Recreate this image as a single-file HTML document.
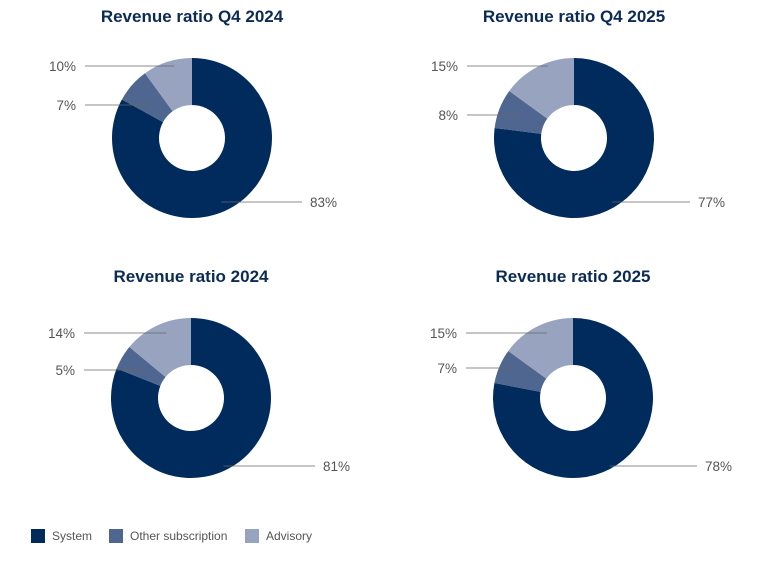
<!DOCTYPE html>
<html><head><meta charset="utf-8"><style>
body{margin:0;background:#fff;width:776px;height:570px;overflow:hidden;font-family:"Liberation Sans",sans-serif}
svg{display:block}
.t{font-weight:bold;font-size:17px;fill:#0b2a55}
.l{font-size:13.5px;fill:#555}
.lg{font-size:12px;fill:#555}
</style></head><body>
<svg id="c" width="776" height="570"></svg>
<script>
const titles=["Revenue ratio Q4 2024","Revenue ratio Q4 2025","Revenue ratio 2024","Revenue ratio 2025"];
const system=[83,77,81,78];
const otherSub=[7,8,5,7];
const advisory=[10,15,14,15];
const seriesNames=["System","Other subscription","Advisory"];
const colors=["#002b5c","#4f6690","#98a3bf"];
const centers=[[192,138],[574,138],[191,398],[573,398]];
const labelY=[[202,105,66],[202,115,66],[466,370,333],[466,368,333]];
const rightOff=[110,116,124,124];
const R=80,r=33,NS="http://www.w3.org/2000/svg";
const svg=document.getElementById('c');
function mk(t,a){const e=document.createElementNS(NS,t);for(const k in a)e.setAttribute(k,a[k]);svg.appendChild(e);return e;}
function pt(cx,cy,rad,f){const a=f*2*Math.PI;return [cx+rad*Math.sin(a),cy-rad*Math.cos(a)];}
titles.forEach((title,i)=>{
  const [cx,cy]=centers[i];
  const t=mk('text',{x:cx,y:cy-116,'text-anchor':'middle',class:'t'});t.textContent=title;
  
  
  const vals=[system[i],otherSub[i],advisory[i]];
  const tot=vals.reduce((a,b)=>a+b,0);
  let acc=0;
  vals.forEach((v,j)=>{
    const f0=acc/tot,f1=(acc+v)/tot;acc+=v;
    const large=(f1-f0)>0.5?1:0;
    const [x0,y0]=pt(cx,cy,R,f0),[x1,y1]=pt(cx,cy,R,f1),[x2,y2]=pt(cx,cy,r,f1),[x3,y3]=pt(cx,cy,r,f0);
    const p=mk('path',{d:`M${x0},${y0}A${R},${R} 0 ${large} 1 ${x1},${y1}L${x2},${y2}A${r},${r} 0 ${large} 0 ${x3},${y3}Z`,fill:colors[j]});
    
    
    const mid=(f0+f1)/2;
    const [mx]=pt(cx,cy,R*0.72,mid);
    const ly=labelY[i][j];
    let lx1,lx2,tx,anchor;
    if(mid<0.5){lx1=mx;lx2=cx+rightOff[i];tx=cx+rightOff[i]+8;anchor='start';}
    else{lx1=cx-107;lx2=mx;tx=cx-116;anchor='end';}
    const ln=mk('line',{x1:lx1,y1:ly,x2:lx2,y2:ly,stroke:'#666','stroke-width':0.8});
    
    
    const lt=mk('text',{x:tx,y:ly+5,'text-anchor':anchor,class:'l'});lt.textContent=v+'%';
    
    
  });
});
const legX=[31,109,245];
seriesNames.forEach((n,j)=>{
  const s=mk('rect',{x:legX[j],y:529,width:14,height:14,fill:colors[j]});
  
  
  const t=mk('text',{x:legX[j]+21,y:540,class:'lg'});t.textContent=n;
  
  
});
</script>
</body></html>
